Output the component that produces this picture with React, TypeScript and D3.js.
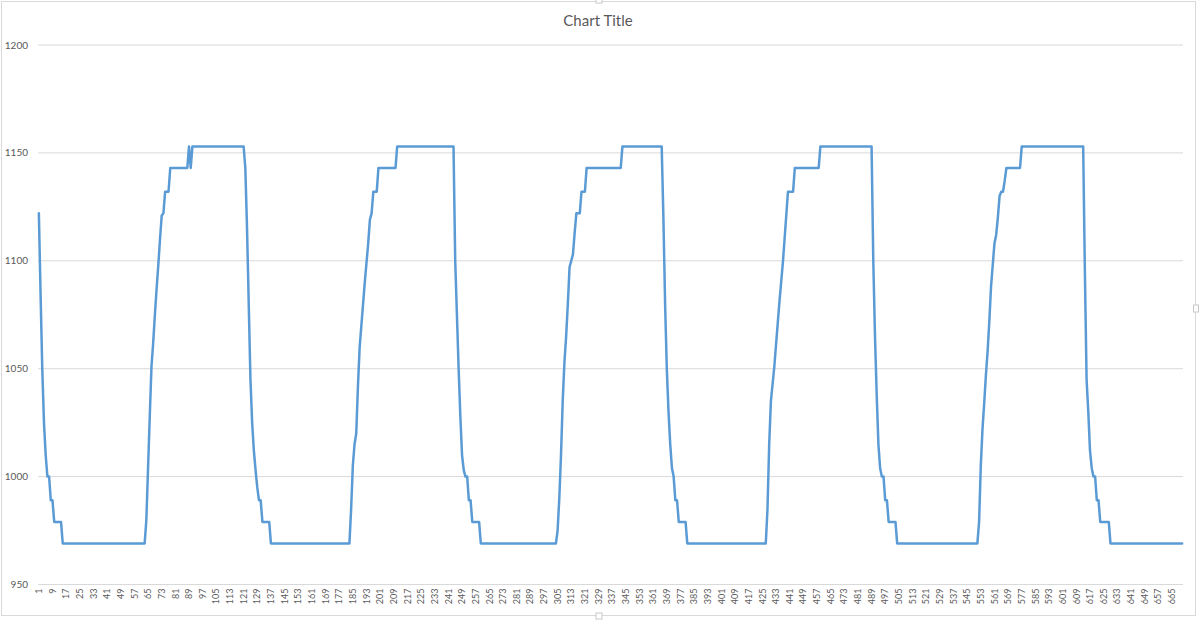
import React from "react";
import * as d3 from "d3";

const WIDTH = 1200;
const HEIGHT = 620;

// Series stored as runs: [value, number of consecutive points with that value]
const cycle1: [number, number][] = [
  [1122, 1], [1085, 1], [1050, 1], [1025, 1], [1010, 1], [1000, 2], [989, 2], [979, 5], [969, 48],
  [969, 1], [980, 1], [1004, 1], [1028, 1], [1051, 1], [1062, 1], [1075, 1], [1087, 1], [1098, 1],
  [1110, 1], [1121, 1], [1122, 1], [1132, 3], [1143, 11],
  [1153, 1], [1143, 1], [1153, 31],
  [1143, 1], [1115, 1], [1080, 1], [1045, 1], [1025, 1], [1012, 1], [1003, 1], [995, 1], [989, 2], [979, 5],
];
const cycle2: [number, number][] = [
  [969, 47], [985, 1], [1005, 1], [1015, 1], [1020, 1], [1042, 1], [1060, 1], [1070, 1], [1080, 1],
  [1090, 1], [1099, 1], [1108, 1], [1119, 1], [1122, 1], [1132, 3], [1143, 11], [1153, 34],
  [1100, 1], [1075, 1], [1050, 1], [1028, 1], [1010, 1], [1003, 1], [1000, 2], [989, 2], [979, 5],
];
const cycle3: [number, number][] = [
  [969, 45], [975, 1], [990, 1], [1010, 1], [1035, 1], [1053, 1], [1065, 1], [1080, 1], [1097, 1],
  [1100, 1], [1103, 1], [1113, 1], [1122, 3], [1132, 3], [1143, 21], [1153, 24],
  [1120, 1], [1080, 1], [1050, 1], [1030, 1], [1015, 1], [1004, 1], [1000, 1], [989, 2], [979, 5],
];
const cycle4: [number, number][] = [
  [969, 47], [985, 1], [1015, 1], [1035, 1], [1043, 1], [1051, 1], [1061, 1], [1071, 1], [1081, 1],
  [1090, 1], [1099, 1], [1110, 1], [1121, 1], [1132, 4], [1143, 15], [1153, 31],
  [1100, 1], [1065, 1], [1038, 1], [1015, 1], [1004, 1], [1000, 2], [989, 2], [979, 5],
];
const cycle5: [number, number][] = [
  [969, 48], [979, 1], [1005, 1], [1022, 1], [1034, 1], [1047, 1], [1058, 1], [1072, 1], [1088, 1],
  [1098, 1], [1108, 1], [1112, 1], [1120, 1], [1130, 1], [1132, 2], [1137, 1], [1143, 9], [1153, 37],
  [1095, 1], [1045, 1], [1030, 1], [1012, 1], [1004, 1], [1000, 2], [989, 2], [979, 6],
];
const tail: [number, number][] = [[969, 43]];

const yTicks = [950, 1000, 1050, 1100, 1150, 1200];
const chartTitle = "Chart Title";
const labelStep = 8;

const values: number[] = [cycle1, cycle2, cycle3, cycle4, cycle5, tail]
  .flat()
  .flatMap(([v, n]) => Array.from({ length: n }, () => v));
const categories = values.map((_, i) => i + 1);
const xLabels = categories.filter((c) => (c - 1) % labelStep === 0);

const plot = { left: 38, right: 1183, top: 45, bottom: 584.5 };
const textColor = "#595959";
const gridColor = "#d9d9d9";
const font = "Lato, 'Open Sans', sans-serif";

export default function App() {
  const x = d3
    .scaleBand<number>()
    .domain(categories)
    .range([plot.left, plot.right]);
  const cx = (c: number) => (x(c) as number) + x.bandwidth() / 2;
  const y = d3.scaleLinear().domain([950, 1200]).range([plot.bottom, plot.top]);

  const line = d3
    .line<number>()
    .x((_, i) => cx(categories[i]))
    .y((v) => y(v));

  return (
    <svg
      width={WIDTH}
      height={HEIGHT}
      style={{ position: "absolute", left: 0, top: 0, background: "#fff" }}
      fontFamily={font}
    >
      <rect x={1.5} y={1.5} width={1194} height={614} fill="#fff" stroke={gridColor} />
      <text
        x={598}
        y={26}
        textAnchor="middle"
        fontSize={15}
        fill={textColor}
      >
        {chartTitle}
      </text>

      {yTicks.map((t) => (
        <g key={t}>
          <line
            x1={plot.left}
            x2={plot.right}
            y1={y(t)}
            y2={y(t)}
            stroke={gridColor}
            strokeWidth={1}
          />
          <text
            x={28}
            y={y(t)}
            dy="0.35em"
            textAnchor="end"
            fontSize={10}
            fill={textColor}
          >
            {t}
          </text>
        </g>
      ))}

      {xLabels.map((c) => (
        <text
          key={c}
          transform={`translate(${cx(c)},${plot.bottom + 4}) rotate(-90)`}
          dy="0.35em"
          textAnchor="end"
          fontSize={9}
          fill={textColor}
        >
          {c}
        </text>
      ))}

      <path
        d={line(values) ?? ""}
        fill="none"
        stroke="#5b9bd5"
        strokeWidth={2.5}
        strokeLinejoin="round"
        strokeLinecap="round"
      />

      <rect x={596} y={-2} width={6} height={5} fill="#fff" stroke="#c8c8c8" />
      <rect x={1193.5} y={305} width={5} height={7} fill="#fff" stroke="#c8c8c8" />
      <rect x={596} y={613} width={6} height={6} fill="#fff" stroke="#c8c8c8" />
    </svg>
  );
}
